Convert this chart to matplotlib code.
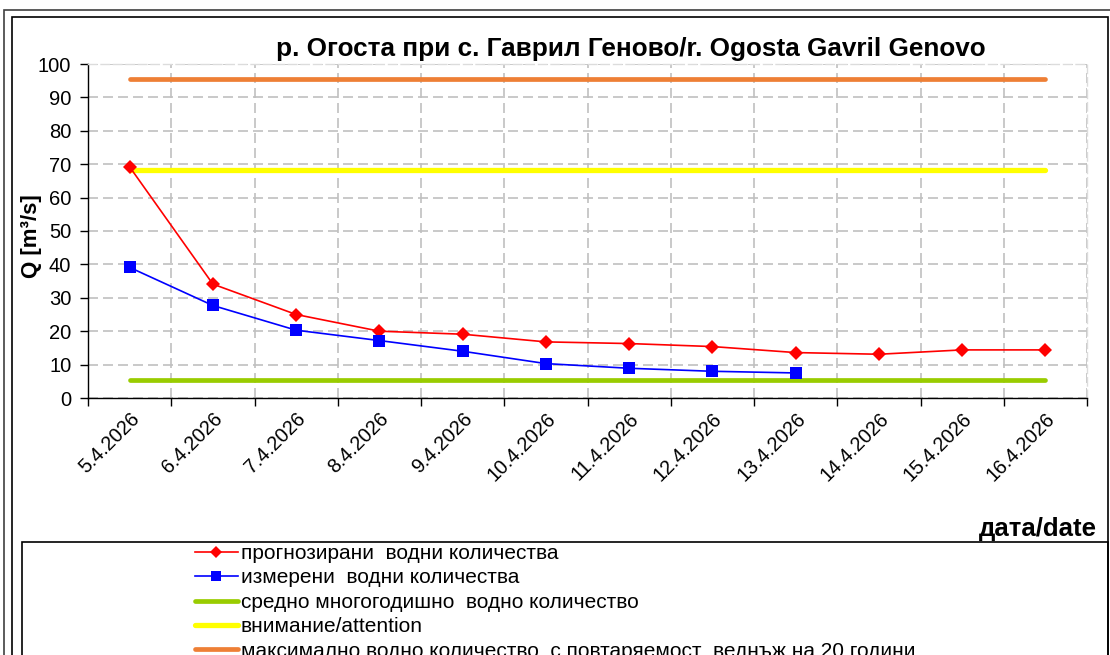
import matplotlib
matplotlib.use("Agg")
import matplotlib.pyplot as plt
from matplotlib.patches import Rectangle
from matplotlib.lines import Line2D

dates = ["5.4.2026", "6.4.2026", "7.4.2026", "8.4.2026", "9.4.2026", "10.4.2026",
         "11.4.2026", "12.4.2026", "13.4.2026", "14.4.2026", "15.4.2026", "16.4.2026"]
forecast = [69.2, 34.1, 25.0, 20.0, 19.1, 16.8, 16.3, 15.4, 13.6, 13.1, 14.4, 14.4]
measured = [39.1, 27.7, 20.3, 17.2, 14.0, 10.3, 8.9, 8.0, 7.5]
mean_flow = [5.4] * 12
attention = [68.4] * 12
max_flow = [95.5] * 12

labels = ["прогнозирани  водни количества",
          "измерени  водни количества",
          "средно многогодишно  водно количество",
          "внимание/attention",
          "максимално водно количество  с повтаряемост  веднъж на 20 години"]
title = "р. Огоста при с. Гаврил Геново/r. Ogosta Gavril Genovo"

plt.rcParams['font.family'] = ['Liberation Sans', 'DejaVu Sans']

W, H = 1110, 655
fig = plt.figure(figsize=(W / 100, H / 100), dpi=100)

def fx(px):
    return px / W

def fy(py):
    return 1 - py / H

# frames
fig.patches.append(Rectangle((fx(4), fy(700)), fx(1200) - fx(4), fy(10) - fy(700),
                             transform=fig.transFigure, fill=False, edgecolor='#404040', lw=1.2))
fig.patches.append(Rectangle((fx(12), fy(700)), fx(1108) - fx(12), fy(17) - fy(700),
                             transform=fig.transFigure, fill=False, edgecolor='black', lw=1.2))
fig.patches.append(Rectangle((fx(22), fy(700)), fx(1108) - fx(22), fy(542) - fy(700),
                             transform=fig.transFigure, fill=False, edgecolor='black', lw=1.2))

ax = fig.add_axes([fx(88), fy(398), fx(1087) - fx(88), fy(64) - fy(398)])
x = list(range(len(dates)))

l_max, = ax.plot(x, max_flow, color='#EE7F35', lw=3.4, solid_capstyle='round', zorder=3)
l_att, = ax.plot(x, attention, color='#FFFF00', lw=3.8, solid_capstyle='round', zorder=3)
l_mean, = ax.plot(x, mean_flow, color='#99CC00', lw=3.4, solid_capstyle='round', zorder=3)
l_fc, = ax.plot(x, forecast, color='#FF0000', lw=1.2, marker='D', markersize=7.5,
                markeredgewidth=0, zorder=4)
l_ms, = ax.plot(x[:len(measured)], measured, color='#0000FF', lw=1.2, marker='s',
                markersize=9, markeredgewidth=0, zorder=4)

ax.set_xlim(-0.5, len(dates) - 0.5)
ax.set_ylim(0, 100)
ax.set_yticks(range(0, 101, 10))
ax.set_xticks(x)
ax.set_xticklabels(dates, rotation=45, ha='right', va='top', rotation_mode='anchor')
ax.set_xticks([i - 0.5 for i in range(len(dates) + 1)], minor=True)
ax.tick_params(axis='x', which='major', length=0, labelsize=14.2, pad=8)
ax.tick_params(axis='x', which='minor', length=6, width=1, direction='out', color='black')
ax.tick_params(axis='y', which='major', length=6, width=1, direction='out', labelsize=14.5, pad=6)

ax.grid(True, axis='y', which='major', color='#c0c0c0', linestyle=(0, (6, 3)), lw=1.2)
ax.grid(True, axis='x', which='minor', color='#c0c0c0', linestyle=(0, (6, 3)), lw=1.2)
ax.set_axisbelow(True)

for s in ['top', 'right']:
    ax.spines[s].set_color('#dcdcdc')
    ax.spines[s].set_linestyle((0, (6, 3)))
    ax.spines[s].set_linewidth(1.0)
for s in ['left', 'bottom']:
    ax.spines[s].set_color('black')
    ax.spines[s].set_linewidth(1.0)

fig.text(fx(31), fy(236), "Q [m³/s]", rotation=90, ha='center', va='center',
         fontsize=16, fontweight='bold')
fig.text(fx(631), fy(49), title, ha='center', va='center', fontsize=18.8, fontweight='bold')
fig.text(fx(1097), fy(529), "дата/date", ha='right', va='center', fontsize=18.5, fontweight='bold')

h_fc = Line2D([], [], color='#FF0000', lw=1.2, marker='D', markersize=6, markeredgewidth=0)
h_ms = Line2D([], [], color='#0000FF', lw=1.2, marker='s', markersize=7, markeredgewidth=0)
h_mean = Line2D([], [], color='#99CC00', lw=3.4, solid_capstyle='round')
h_att = Line2D([], [], color='#FFFF00', lw=3.8, solid_capstyle='round')
h_max = Line2D([], [], color='#EE7F35', lw=3.4, solid_capstyle='round')

fig.legend([h_fc, h_ms, h_mean, h_att, h_max], labels, loc='upper left',
           bbox_to_anchor=(fx(195), fy(544)), frameon=False, fontsize=15,
           handlelength=2.05, handletextpad=0.15, labelspacing=0.26,
           borderpad=0, borderaxespad=0)

fig.savefig("out.png", dpi=100)
